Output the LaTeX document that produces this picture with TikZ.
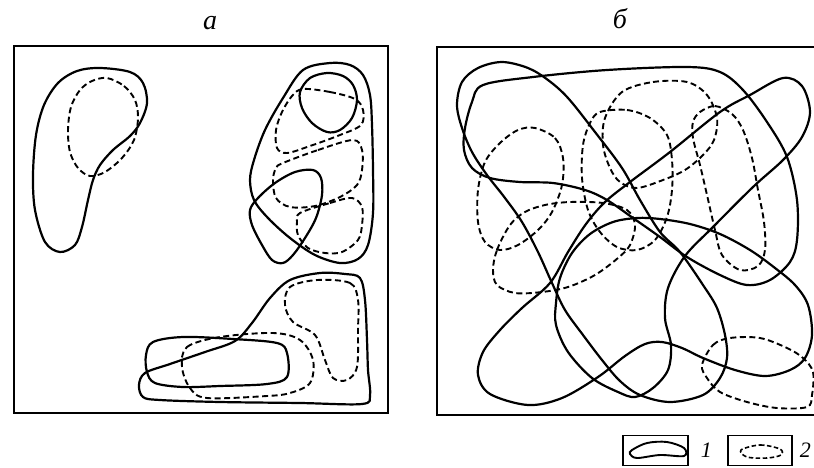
\documentclass[tikz,border=0pt]{standalone}
\usepackage{fontspec}
\newfontfamily\cyrfont{Liberation Serif}
\begin{document}
\begin{tikzpicture}[x=1pt,y=-1pt,
  solidc/.style={line width=2.2pt, line join=round},
  dashc/.style={line width=1.9pt, dash pattern=on 6pt off 3.5pt},
  frame/.style={line width=1.5pt},
  lbl/.style={font=\cyrfont\itshape\fontsize{28}{30}\selectfont, inner sep=0pt},
  smc/.style={smooth cycle, tension=0.55}]
\useasboundingbox (0,0) rectangle (814,467);
\clip (0,0) rectangle (814,467);

% labels
\node[lbl] (la) at (210,23) {а};
\node[lbl] (lb) at (620,19) {б};

% frames
\draw[frame] (14,46) rectangle (388,413);
\draw[frame] (820,47) -- (437,47) -- (437,415) -- (820,415);

% ===== panel a =====
\draw[solidc] plot[smc] coordinates {(77,71) (100,68) (130,72) (143,83) (147,103) (140,123) (130,136) (113,150) (100,165) (93,180) (88,200) (82,227) (75,245) (60,252) (45,242) (35,210) (33,175) (36,135) (44,105) (58,83)};
\draw[dashc] plot[smc] coordinates {(107,78) (124,86) (135,100) (138,118) (134,140) (122,158) (105,172) (90,176) (78,168) (70,152) (68,130) (71,107) (80,90) (92,81)};

\draw[solidc] plot[smc] coordinates {(303,70) (330,63) (350,65) (363,75) (370,95) (372,125) (373,170) (373,213) (368,245) (358,259) (340,263) (315,255) (290,238) (268,218) (254,200) (250,180) (254,160) (265,130) (283,98)};
\draw[solidc] plot[smc] coordinates {(327,73) (343,76) (353,85) (357,100) (352,118) (340,130) (327,132) (312,123) (302,108) (300,92) (310,78)};
\draw[solidc] plot[smc] coordinates {(313,170) (321,178) (322,195) (316,218) (305,238) (293,255) (283,263) (272,260) (262,245) (252,225) (250,210) (258,198) (275,183) (295,172)};
\draw[dashc] plot[smc] coordinates {(303,89) (330,92) (355,99) (363,110) (361,125) (340,135) (310,146) (287,153) (277,148) (276,130) (282,112) (292,96)};
\draw[dashc] plot[smc] coordinates {(283,163) (318,150) (353,140) (362,150) (362,170) (357,185) (340,197) (315,206) (290,207) (276,198) (273,180) (276,168)};
\draw[dashc] plot[smc] coordinates {(300,213) (330,203) (352,198) (362,207) (362,225) (358,240) (342,252) (325,253) (308,248) (298,235) (297,222)};

\draw[solidc] plot[smc] coordinates {(320,273) (345,274) (360,278) (365,300) (367,340) (368,370) (370,395) (362,404) (300,403) (220,402) (160,400) (143,397) (139,385) (145,373) (170,364) (205,352) (235,341) (252,323) (270,298) (290,280)};
\draw[solidc] plot[smc] coordinates {(153,342) (183,337) (233,339) (277,343) (287,353) (287,377) (267,384) (220,386) (183,387) (155,383) (147,372) (146,355)};
\draw[dashc] plot[smc] coordinates {(182,367) (187,347) (220,337) (273,333) (300,340) (313,360) (310,383) (290,393) (267,396) (207,398) (190,388)};
\draw[dashc] plot[smc] coordinates {(317,280) (350,283) (358,300) (358,330) (357,367) (347,380) (333,378) (325,360) (315,335) (293,322) (285,305) (290,287)};

% ===== panel b =====
% X
\draw[solidc] plot[smc] coordinates {(502,62) (528,68) (548,80) (568,98) (595,132) (622,168) (640,200) (660,232) (680,252) (703,285) (717,308) (725,335) (727,358) (720,378) (703,395) (670,402) (640,395) (620,381) (602,360) (583,335) (565,310) (552,283) (538,252) (522,222) (505,198) (487,175) (472,152) (462,128) (457,105) (462,82) (478,68)};
% Y
\draw[solidc] plot[smc] coordinates {(483,85) (533,77) (607,70) (687,67) (720,72) (743,90) (767,122) (787,157) (797,200) (797,240) (790,262) (770,280) (747,285) (720,275) (687,257) (660,237) (633,218) (607,200) (585,190) (553,183) (520,182) (490,178) (472,168) (464,150) (465,128) (472,102)};
% Z + W
\draw[solidc] plot[smc] coordinates {(556,325) (568,352) (592,378) (618,392) (635,397) (653,388) (668,370) (671,345) (665,318) (668,288) (685,256) (713,227) (753,187) (783,160) (802,137) (810,112) (802,86) (783,78) (750,95) (720,112) (670,152) (630,182) (605,202) (586,224) (568,252) (550,283) (522,308) (500,330) (483,352) (478,375) (490,394) (528,405) (562,398) (598,377) (625,356) (645,344) (662,342) (682,348) (703,358) (735,370) (765,376) (790,370) (805,358) (812,335) (808,305) (795,285) (775,268) (750,250) (720,234) (690,224) (660,219) (637,218) (613,222) (590,234) (572,253) (560,278) (556,303)};

\draw[dashc] plot[smc] coordinates {(535,128) (555,138) (563,158) (562,185) (552,212) (538,230) (518,245) (500,250) (485,242) (478,222) (478,190) (485,162) (500,143) (518,130)};
\draw[dashc] plot[smc] coordinates {(493,270) (497,250) (510,225) (525,212) (545,205) (570,202) (603,203) (627,210) (635,225) (630,245) (618,258) (595,275) (568,287) (542,292) (515,293) (497,285)};
\draw[dashc] plot[smc] coordinates {(600,112) (627,110) (650,118) (667,135) (672,160) (672,190) (667,217) (655,240) (637,250) (617,247) (600,232) (588,210) (582,178) (583,145) (590,123)};
\draw[dashc] plot[smc] coordinates {(622,92) (653,82) (687,82) (707,95) (717,118) (714,140) (703,155) (685,170) (663,180) (637,188) (620,182) (610,168) (603,145) (605,118)};
\draw[dashc] plot[smc] coordinates {(700,112) (715,106) (732,114) (743,130) (752,158) (758,190) (764,222) (765,250) (758,266) (740,270) (722,255) (715,230) (707,195) (700,165) (693,138) (693,122)};
\draw[dashc] plot[smc] coordinates {(702,365) (713,345) (730,338) (760,338) (787,348) (803,358) (813,372) (812,395) (807,407) (777,408) (747,402) (720,392) (707,378)};

% ===== legend =====
\node[draw, frame, minimum width=65pt, minimum height=30pt, inner sep=0pt] (k1) at (655.5,450.5) {};
\node[draw, frame, minimum width=64pt, minimum height=30pt, inner sep=0pt] (k2) at (760,450.5) {};
\draw[line width=1.9pt] plot[smc] coordinates {(632,450) (647,443) (667,442) (684,448) (684,456) (660,455) (637,458) (630,454)};
\draw[line width=1.6pt, dash pattern=on 4.5pt off 2.5pt] plot[smc] coordinates {(741,450) (760,445) (780,449) (781,455) (767,458) (747,457)};
\node[lbl, font=\cyrfont\itshape\fontsize{22}{24}\selectfont, anchor=west] (n1) at (k1.east) [xshift=12pt] {1};
\node[lbl, font=\cyrfont\itshape\fontsize{22}{24}\selectfont, anchor=west] (n2) at (k2.east) [xshift=7pt] {2};
\end{tikzpicture}
\end{document}
